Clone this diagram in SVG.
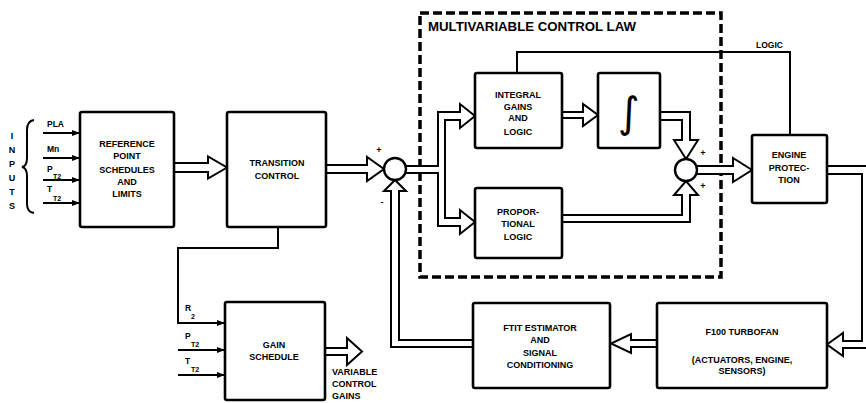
<svg xmlns="http://www.w3.org/2000/svg" width="866" height="403" viewBox="0 0 866 403">
<style>
.box{fill:#fff;stroke:#000;stroke-width:2.6}
.dash{fill:none;stroke:#000;stroke-width:3.5;stroke-dasharray:9 4}
.ln{fill:none;stroke:#000;stroke-width:2}
.dbl{fill:#fff;stroke:#000;stroke-width:2;stroke-linejoin:miter}
.sum{fill:#fff;stroke:#000;stroke-width:2.4}
text{font-family:"Liberation Sans",Arial,sans-serif;font-weight:bold;font-size:9px;fill:#000}
.c{text-anchor:middle}
.s{font-size:8.5px}
.sub{font-size:7px}
.title{font-size:12px}
</style>
<defs>
<marker id="ah" markerUnits="userSpaceOnUse" markerWidth="8" markerHeight="6" refX="8" refY="3" orient="auto">
<path d="M0,0 L8,3 L0,6 z" fill="#000"/>
</marker>
</defs>

<rect class="dash" x="420" y="13" width="301" height="264"/>
<text class="title" x="428" y="31" textLength="208" lengthAdjust="spacingAndGlyphs">MULTIVARIABLE CONTROL LAW</text>

<g id="connectors">
<path class="ln" d="M43,133 H80" marker-end="url(#ah)"/>
<path class="ln" d="M43,158 H80" marker-end="url(#ah)"/>
<path class="ln" d="M43,180 H80" marker-end="url(#ah)"/>
<path class="ln" d="M43,203 H80" marker-end="url(#ah)"/>
<path class="ln" d="M34,120 Q27,121 27,130 V158 Q27,166 22,167 Q27,168 27,176 V204 Q27,212 34,213"/>
<path class="dbl" d="M174,163 H208 V156.5 L227,167.5 L208,178.5 V172 H174"/>
<path class="dbl" d="M326,165 H367 V157 L384,169 L367,181 V173 H326"/>
<path class="ln" d="M278,227 V248 H178 V323 H225" marker-end="url(#ah)"/>
<path class="ln" d="M178,350 H225" marker-end="url(#ah)"/>
<path class="ln" d="M178,375 H225" marker-end="url(#ah)"/>
<path class="dbl" d="M325,348 H347 V338 L362,351.5 L347,365 V355 H325"/>
<path class="dbl" d="M405,166 H438 V112 H460 V104 L475,116 L460,128 V120 H445 V218 H460 V210 L475,222 L460,234 V226 H438 V173 H405"/>
<path class="dbl" d="M562,112 H583 V104 L598,115 L583,126 V118 H562"/>
<path class="dbl" d="M660,112 H690 V140 H698 L686,159 L674,140 H682 V120 H660"/>
<path class="dbl" d="M562,215 H682 V195 H674 L686,181 L698,195 H690 V222 H562"/>
<path class="dbl" d="M697,166 H733 V158 L752,170 L733,182 V174 H697"/>
<path class="ln" d="M790,135 V52 H517 V73"/>
<path class="dbl" d="M827,174 H862 V341 H843 V333 L827,344.5 L843,356 V348 H869 V166 H827"/>
<path class="dbl" d="M657,340 H631 V334 L611,343.5 L631,353 V347 H657"/>
<path class="dbl" d="M473,347 H391 V191 H384 L395,180 L406,191 H399 V340 H473"/>
</g>

<g id="inputs-label">
<text class="c" x="12" y="139">I</text>
<text class="c" x="12" y="153">N</text>
<text class="c" x="12" y="167">P</text>
<text class="c" x="12" y="181">U</text>
<text class="c" x="12" y="195">T</text>
<text class="c" x="12" y="209">S</text>
<text class="s" x="47" y="127">PLA</text>
<text class="s" x="47" y="152">Mn</text>
<text class="s" x="47" y="172">P</text><text class="sub" x="53" y="179">T2</text>
<text class="s" x="47" y="192">T</text><text class="sub" x="53" y="201">T2</text>
</g>

<g id="ref-point">
<rect class="box" x="80" y="112" width="94" height="115" rx="2"/>
<text class="c" x="127" y="147">REFERENCE</text>
<text class="c" x="127" y="159">POINT</text>
<text class="c" x="127" y="173">SCHEDULES</text>
<text class="c" x="127" y="185">AND</text>
<text class="c" x="127" y="197">LIMITS</text>
</g>

<g id="transition">
<rect class="box" x="227" y="112" width="99" height="115" rx="2"/>
<text class="c" x="277" y="166">TRANSITION</text>
<text class="c" x="277" y="179">CONTROL</text>
</g>

<g id="summer1">
<circle class="sum" cx="395" cy="169" r="11"/>
<text class="c" x="379" y="153">+</text>
<text class="c" x="382" y="205">-</text>
</g>

<g id="integral-gains">
<rect class="box" x="475" y="73" width="87" height="75" rx="2"/>
<text class="c" x="518" y="98">INTEGRAL</text>
<text class="c" x="518" y="110">GAINS</text>
<text class="c" x="518" y="121">AND</text>
<text class="c" x="518" y="135">LOGIC</text>
</g>

<g id="integrator">
<rect class="box" x="598" y="73" width="62" height="75" rx="2"/>
<text x="629" y="127" class="c" style="font-family:'DejaVu Sans',sans-serif;font-weight:normal;font-size:42px">∫</text>
</g>

<g id="proportional">
<rect class="box" x="475" y="188" width="87" height="70" rx="2"/>
<text class="c" x="518" y="215">PROPOR-</text>
<text class="c" x="518" y="227">TIONAL</text>
<text class="c" x="518" y="240">LOGIC</text>
</g>

<g id="summer2">
<circle class="sum" cx="686" cy="170" r="11"/>
<text class="c" x="703" y="156">+</text>
<text class="c" x="703" y="189">+</text>
</g>

<g id="engine-protection">
<rect class="box" x="752" y="135" width="75" height="68" rx="2"/>
<text class="c" x="789" y="158">ENGINE</text>
<text class="c" x="789" y="171">PROTEC-</text>
<text class="c" x="789" y="183">TION</text>
<text class="s" x="756" y="48">LOGIC</text>
</g>

<g id="f100">
<rect class="box" x="657" y="303" width="170" height="85" rx="2"/>
<text class="c" x="742" y="335">F100 TURBOFAN</text>
<text class="c" x="742" y="363">(ACTUATORS, ENGINE,</text>
<text class="c" x="742" y="374">SENSORS)</text>
</g>

<g id="ftit">
<rect class="box" x="473" y="303" width="137" height="85" rx="2"/>
<text class="c" x="540" y="331">FTIT ESTIMATOR</text>
<text class="c" x="540" y="343">AND</text>
<text class="c" x="540" y="356">SIGNAL</text>
<text class="c" x="540" y="368">CONDITIONING</text>
</g>

<g id="gain-schedule">
<rect class="box" x="225" y="302" width="100" height="98" rx="2"/>
<text class="c" x="274" y="348">GAIN</text>
<text class="c" x="274" y="360">SCHEDULE</text>
<text class="s" x="185" y="311">R</text><text class="sub" x="191" y="319">2</text>
<text class="s" x="185" y="339">P</text><text class="sub" x="191" y="347">T2</text>
<text class="s" x="185" y="364">T</text><text class="sub" x="191" y="372">T2</text>
<text x="332" y="375">VARIABLE</text>
<text x="332" y="387">CONTROL</text>
<text x="332" y="399">GAINS</text>
</g>
</svg>
